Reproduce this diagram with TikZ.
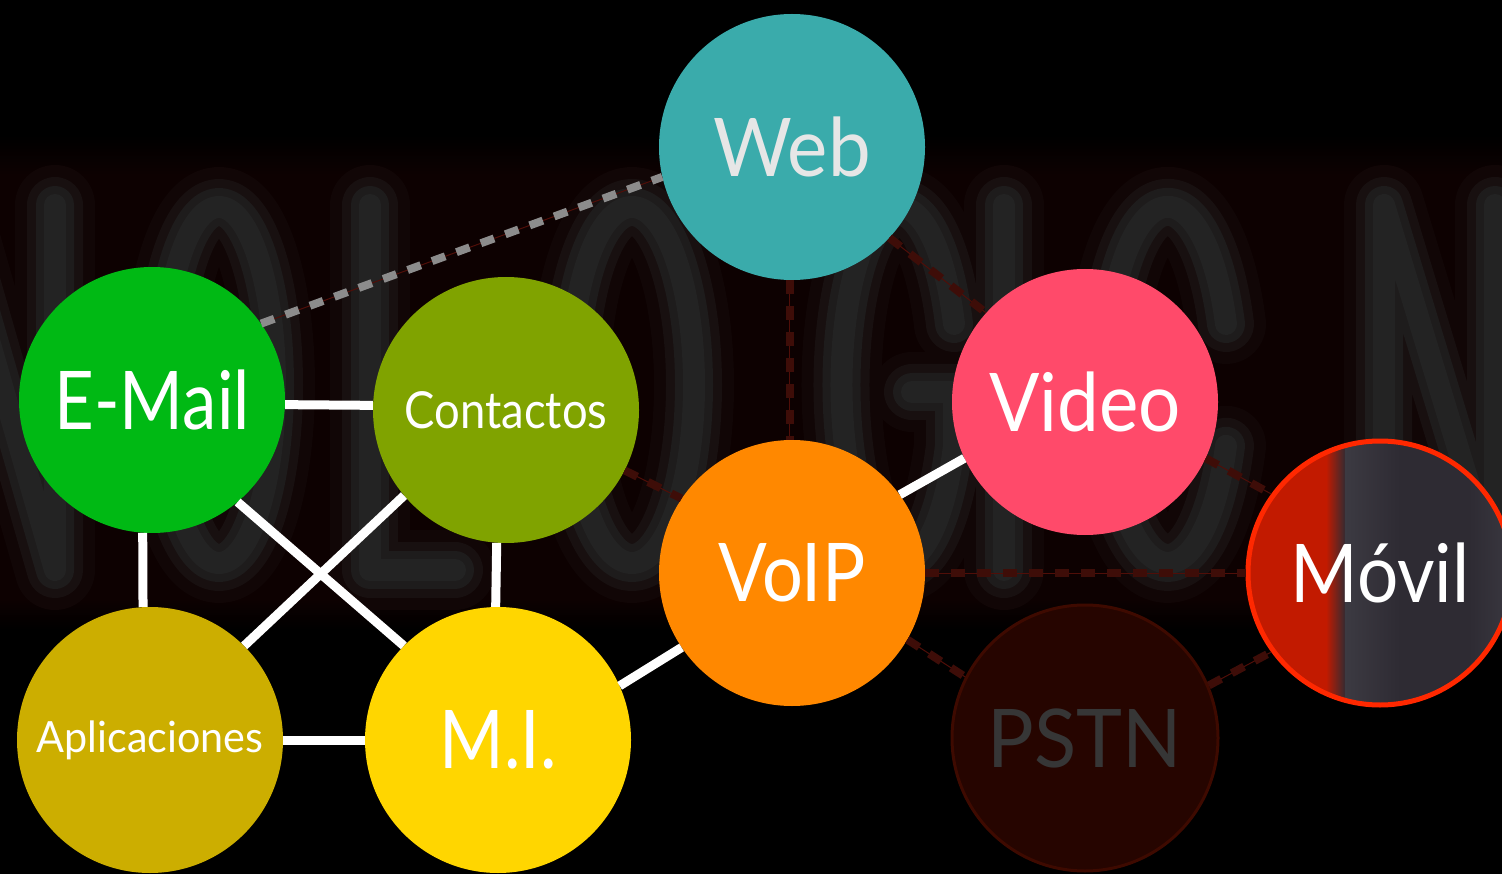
\documentclass[tikz,border=0pt]{standalone}
\usepackage{fontspec}
\setmainfont{Lato}

\definecolor{webc}{RGB}{58,171,171}
\definecolor{emailc}{RGB}{0,185,20}
\definecolor{contc}{RGB}{128,163,0}
\definecolor{videoc}{RGB}{255,74,106}
\definecolor{voipc}{RGB}{255,136,0}
\definecolor{appsc}{RGB}{204,174,0}
\definecolor{mic}{RGB}{255,214,0}
\definecolor{pstnfill}{RGB}{38,5,0}
\definecolor{pstndraw}{RGB}{62,10,0}
\definecolor{pstntext}{RGB}{54,54,54}
\definecolor{movred}{RGB}{194,26,0}
\definecolor{movdark}{RGB}{46,43,51}
\definecolor{movlight}{RGB}{60,58,66}
\definecolor{movborder}{RGB}{255,40,0}
\definecolor{webtext}{RGB}{230,230,230}
\definecolor{dashred}{RGB}{62,13,8}
\definecolor{threadred}{RGB}{80,14,8}
\definecolor{dashgray}{RGB}{140,140,140}
\definecolor{band}{RGB}{13,1,1}
\definecolor{ghostA}{RGB}{17,6,6}
\definecolor{ghostB}{RGB}{24,16,16}
\definecolor{ghostC}{RGB}{30,28,28}
\definecolor{ghostD}{RGB}{35,35,35}

% label squeezed horizontally
\newcommand\lbl[2]{\scalebox{#1}[1]{#2}}

\tikzset{
  bubble/.style={circle, inner sep=0pt, minimum size=266pt, text=white},
  bigtxt/.style={font=\fontsize{81}{81}\selectfont},
  smalltxt/.style={font=\fontsize{51}{51}\selectfont},
  wire/.style={draw=white, line width=9pt},
  dashthread/.style={draw=threadred, line width=1pt},
  reddash/.style={draw=dashred, line width=8pt, dash pattern=on 14pt off 12pt},
  graydash/.style={draw=dashgray, line width=8pt, dash pattern=on 14pt off 12pt},
  ghost/.style={line cap=round, line join=round},
}

\begin{document}
\begin{tikzpicture}[x=1pt, y=-1pt]
% canvas
\fill[black] (0,0) rectangle (1502,874);
\useasboundingbox (0,0) rectangle (1502,874);

% hazy band with large ghost lettering behind the diagram
\begin{scope}
\clip (0,0) rectangle (1502,874);
\shade[top color=black, bottom color=band] (-10,135) rectangle (1512,175);
\fill[band] (-10,174) rectangle (1512,600);
\shade[top color=band, bottom color=black] (-10,599) rectangle (1512,630);
\foreach \w/\c in {80/ghostA, 56/ghostB, 38/ghostC, 22/ghostD}{
  \begin{scope}[ghost, draw=\c, line width=\w pt]
    \draw (-50,570) -- (-50,205) -- (55,570) -- (55,205);          % N
    \draw (219,385) ellipse [x radius=56, y radius=178];           % O
    \draw (370,205) -- (370,570) -- (455,570);                     % L
    \draw (632,385) ellipse [x radius=62, y radius=178];           % O
    \draw (954,324) arc[start angle=-20, end angle=-340, x radius=58, y radius=178]
          (954,446) -- (954,392) -- (912,392);                     % G
    \draw (1004,205) -- (1004,570);                                % I
    \draw (1226,324) arc[start angle=-20, end angle=-340, x radius=62, y radius=178]; % C
    \draw (1384,570) -- (1384,205) -- (1495,570) -- (1495,205);    % N
  \end{scope}
}
\end{scope}

% Móvil body: red band fading into dark glass
\coordinate (mc) at (1380,573);
\begin{scope}
\clip (mc) circle (133);
\fill[movred] (1240,430) rectangle (1327,720);
\shade[left color=movred, right color=movdark] (1326,430) rectangle (1346,720);
\shade[left color=movlight, right color=movdark] (1345,430) rectangle (1400,720);
\fill[movdark] (1399,430) rectangle (1470,720);
\shade[left color=movdark, right color=movlight] (1469,430) rectangle (1520,720);
\end{scope}

% bubbles
\node[bubble, fill=webc, text=webtext, bigtxt] (web) at (792,147) {\lbl{0.94}{Web}};
\node[bubble, fill=emailc, bigtxt] (email) at (152,400) {\lbl{0.85}{E-Mail}};
\node[bubble, fill=contc, smalltxt] (contactos) at (506,410) {\lbl{0.89}{Contactos}};
\node[bubble, fill=videoc, bigtxt] (video) at (1085,402) {\lbl{0.92}{Video}};
\node[bubble, fill=voipc, bigtxt] (voip) at (792,573) {\lbl{0.89}{VoIP}};
\node[bubble, draw=movborder, line width=5pt, minimum size=264pt, bigtxt] (movil) at (mc) {\lbl{0.9}{Móvil}};
\node[bubble, fill=appsc, font=\fontsize{43}{43}\selectfont] (apps) at (150,740) {\lbl{0.96}{Aplicaciones}};
\node[bubble, fill=mic, bigtxt] (mi) at (498,740) {\lbl{0.86}{M.I.}};
\node[bubble, fill=pstnfill, draw=pstndraw, line width=3pt, text=pstntext, bigtxt] (pstn) at (1085,738) {\lbl{0.96}{PSTN}};

% solid links
\draw[wire] (email.-2) -- (contactos.178);
\draw[wire] (email.-94) -- (apps.93);
\draw[wire] (contactos.-94) -- (mi.91);
\draw[wire] (email.-50) -- (mi.135);
\draw[wire] (contactos.220) -- (apps.45);
\draw[wire] (apps.0) -- (mi.180);
\draw[wire] (mi.24) -- (voip.214);
\draw[wire] (voip.36) -- (video.205);

% dashed links: a fine thread with the dashes laid over it
\draw[dashthread] (email.35) -- (web.193);
\draw[graydash] (email.35) -- (web.193);
\foreach \a/\b in {web.-91/voip.91, web.-43/video.138, contactos.-27/voip.146,
                   voip.0/movil.180, video.-25/movil.144, voip.-30/pstn.153,
                   pstn.23/movil.216}{
  \draw[dashthread] (\a) -- (\b);
  \draw[reddash] (\a) -- (\b);
}
\end{tikzpicture}
\end{document}
